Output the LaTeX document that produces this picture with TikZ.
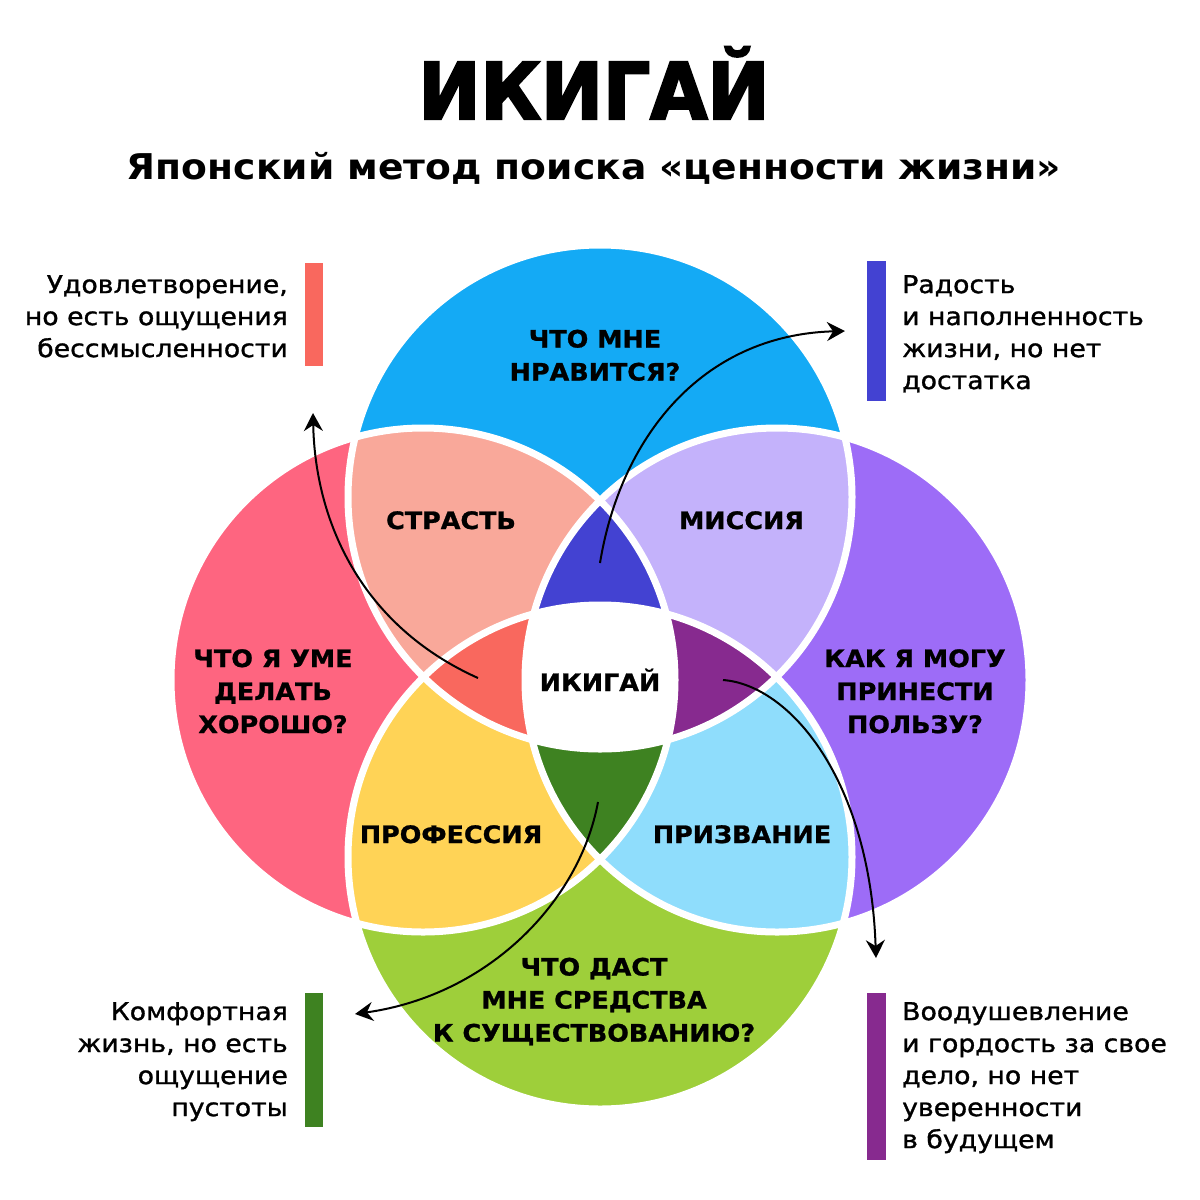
\documentclass[tikz,border=0pt]{standalone}
\usepackage{fontspec}
\setmainfont{DejaVu Sans}
\newfontfamily\titlefont{DejaVu Sans Bold}[FakeBold=3,FakeStretch=0.95]
\newfontfamily\lblfont{DejaVu Sans Bold}[FakeStretch=1.06,FakeBold=1]
\newfontfamily\subfont{DejaVu Sans Bold}[FakeStretch=1.06]
\newfontfamily\bodyfont{DejaVu Sans}[FakeStretch=1.09,FakeBold=1.2]
\usetikzlibrary{arrows.meta}
\definecolor{cTop}{RGB}{20,170,245}
\definecolor{cLeft}{RGB}{254,101,128}
\definecolor{cRight}{RGB}{157,108,247}
\definecolor{cBot}{RGB}{158,207,58}
\definecolor{cTL}{RGB}{249,168,154}
\definecolor{cTR}{RGB}{196,178,251}
\definecolor{cLB}{RGB}{255,211,86}
\definecolor{cRB}{RGB}{143,221,252}
\definecolor{cDB}{RGB}{67,66,210}
\definecolor{cDR}{RGB}{249,104,94}
\definecolor{cDP}{RGB}{135,42,143}
\definecolor{cDG}{RGB}{62,130,33}
\tikzset{
  lbl/.style={font=\lblfont\fontsize{24}{33}\selectfont, align=center, inner sep=0pt, text=black},
  side/.style={font=\bodyfont\fontsize{24.5}{32}\selectfont, inner sep=0pt, text=black},
  arr/.style={-{Stealth[length=18pt,width=19pt,inset=6pt]}, line width=2pt, black},
  ring/.style={white, line width=7pt},
}
\begin{document}
\begin{tikzpicture}[x=1pt,y=-1pt]
\fill[white] (0,0) rectangle (1200,1200);
\useasboundingbox (0,0) rectangle (1200,1200);
\def\rr{252pt}
\coordinate (T) at (600,497);
\coordinate (L) at (423,680);
\coordinate (R) at (777,680);
\coordinate (B) at (600,857);
% base circles
\fill[cTop] (T) circle[radius=\rr];
\fill[cLeft] (L) circle[radius=\rr];
\fill[cRight] (R) circle[radius=\rr];
\fill[cBot] (B) circle[radius=\rr];
% pairwise
\begin{scope}
  \clip (T) circle[radius=\rr];
  \fill[cTL] (L) circle[radius=\rr];
  \fill[cTR] (R) circle[radius=\rr];
\end{scope}
\begin{scope}
  \clip (B) circle[radius=\rr];
  \fill[cLB] (L) circle[radius=\rr];
  \fill[cRB] (R) circle[radius=\rr];
\end{scope}
% triples
\begin{scope}
  \clip (T) circle[radius=\rr];
  \clip (L) circle[radius=\rr];
  \fill[cDB] (R) circle[radius=\rr];
  \fill[cDR] (B) circle[radius=\rr];
\end{scope}
\begin{scope}
  \clip (B) circle[radius=\rr];
  \clip (R) circle[radius=\rr];
  \fill[cDP] (T) circle[radius=\rr];
  \fill[cDG] (L) circle[radius=\rr];
\end{scope}
% all four
\begin{scope}
  \clip (T) circle[radius=\rr];
  \clip (L) circle[radius=\rr];
  \clip (R) circle[radius=\rr];
  \fill[white] (B) circle[radius=\rr];
\end{scope}
% white rings
\draw[ring] (T) circle[radius=\rr];
\draw[ring] (L) circle[radius=\rr];
\draw[ring] (R) circle[radius=\rr];
\draw[ring] (B) circle[radius=\rr];

% title
\node[font=\titlefont\fontsize{78}{80}\selectfont, inner sep=0pt, anchor=base] (title) at (594,119) {ИКИГАЙ};
\node[font=\subfont\fontsize{35.5}{40}\selectfont, inner sep=0pt, anchor=base] (subtitle) at (594,179) {Японский метод поиска «ценности жизни»};

% circle labels
\node[lbl, anchor=north] (q1) at (595,329.5) {ЧТО МНЕ\\НРАВИТСЯ?};
\node[lbl, anchor=north] (q2) at (273,649) {ЧТО Я УМЕ\\ДЕЛАТЬ\\ХОРОШО?};
\node[lbl, anchor=north] (q3) at (915,649) {КАК Я МОГУ\\ПРИНЕСТИ\\ПОЛЬЗУ?};
\node[lbl, anchor=north] (q4) at (594,957.5) {ЧТО ДАСТ\\МНЕ СРЕДСТВА\\К СУЩЕСТВОВАНИЮ?};
\node[lbl, anchor=base] (passion) at (451,529) {СТРАСТЬ};
\node[lbl, anchor=base] (mission) at (741.5,529) {МИССИЯ};
\node[lbl, anchor=base] (ikigai) at (600,691) {ИКИГАЙ};
\node[lbl, anchor=base] (profession) at (451,843) {ПРОФЕССИЯ};
\node[lbl, anchor=base] (vocation) at (742,843) {ПРИЗВАНИЕ};

% side bars
\fill[cDR] (305,263) rectangle (323,366);
\fill[cDB] (867,261) rectangle (886,401);
\fill[cDG] (305,993) rectangle (323,1127);
\fill[cDP] (867,993) rectangle (886,1160);

% side texts
\node[side, align=right, anchor=north east] (s1) at (288,275) {Удовлетворение,\\но есть ощущения\\бессмысленности};
\node[side, align=left, anchor=north west] (s2) at (902,275) {Радость\\и наполненность\\жизни, но нет\\достатка};
\node[side, align=right, anchor=north east] (s3) at (288,1002) {Комфортная\\жизнь, но есть\\ощущение\\пустоты};
\node[side, align=left, anchor=north west] (s4) at (902,1002) {Воодушевление\\и гордость за свое\\дело, но нет\\уверенности\\в будущем};

% arrows
\coordinate (a1s) at (478,678);
\coordinate (a1e) at (313,413);
\coordinate (a2s) at (600,563);
\coordinate (a2e) at (845,331);
\coordinate (a3s) at (723,680);
\coordinate (a3e) at (876,958);
\coordinate (a4s) at (598,802);
\coordinate (a4e) at (355,1014);
\draw[arr] (a1s) .. controls (360,625) and (315,520) .. (a1e);
\draw[arr] (a2s) .. controls (620,440) and (700,335) .. (a2e);
\draw[arr] (a3s) .. controls (790,685) and (870,780) .. (a3e);
\draw[arr] (a4s) .. controls (580,900) and (490,995) .. (a4e);
\end{tikzpicture}
\end{document}
